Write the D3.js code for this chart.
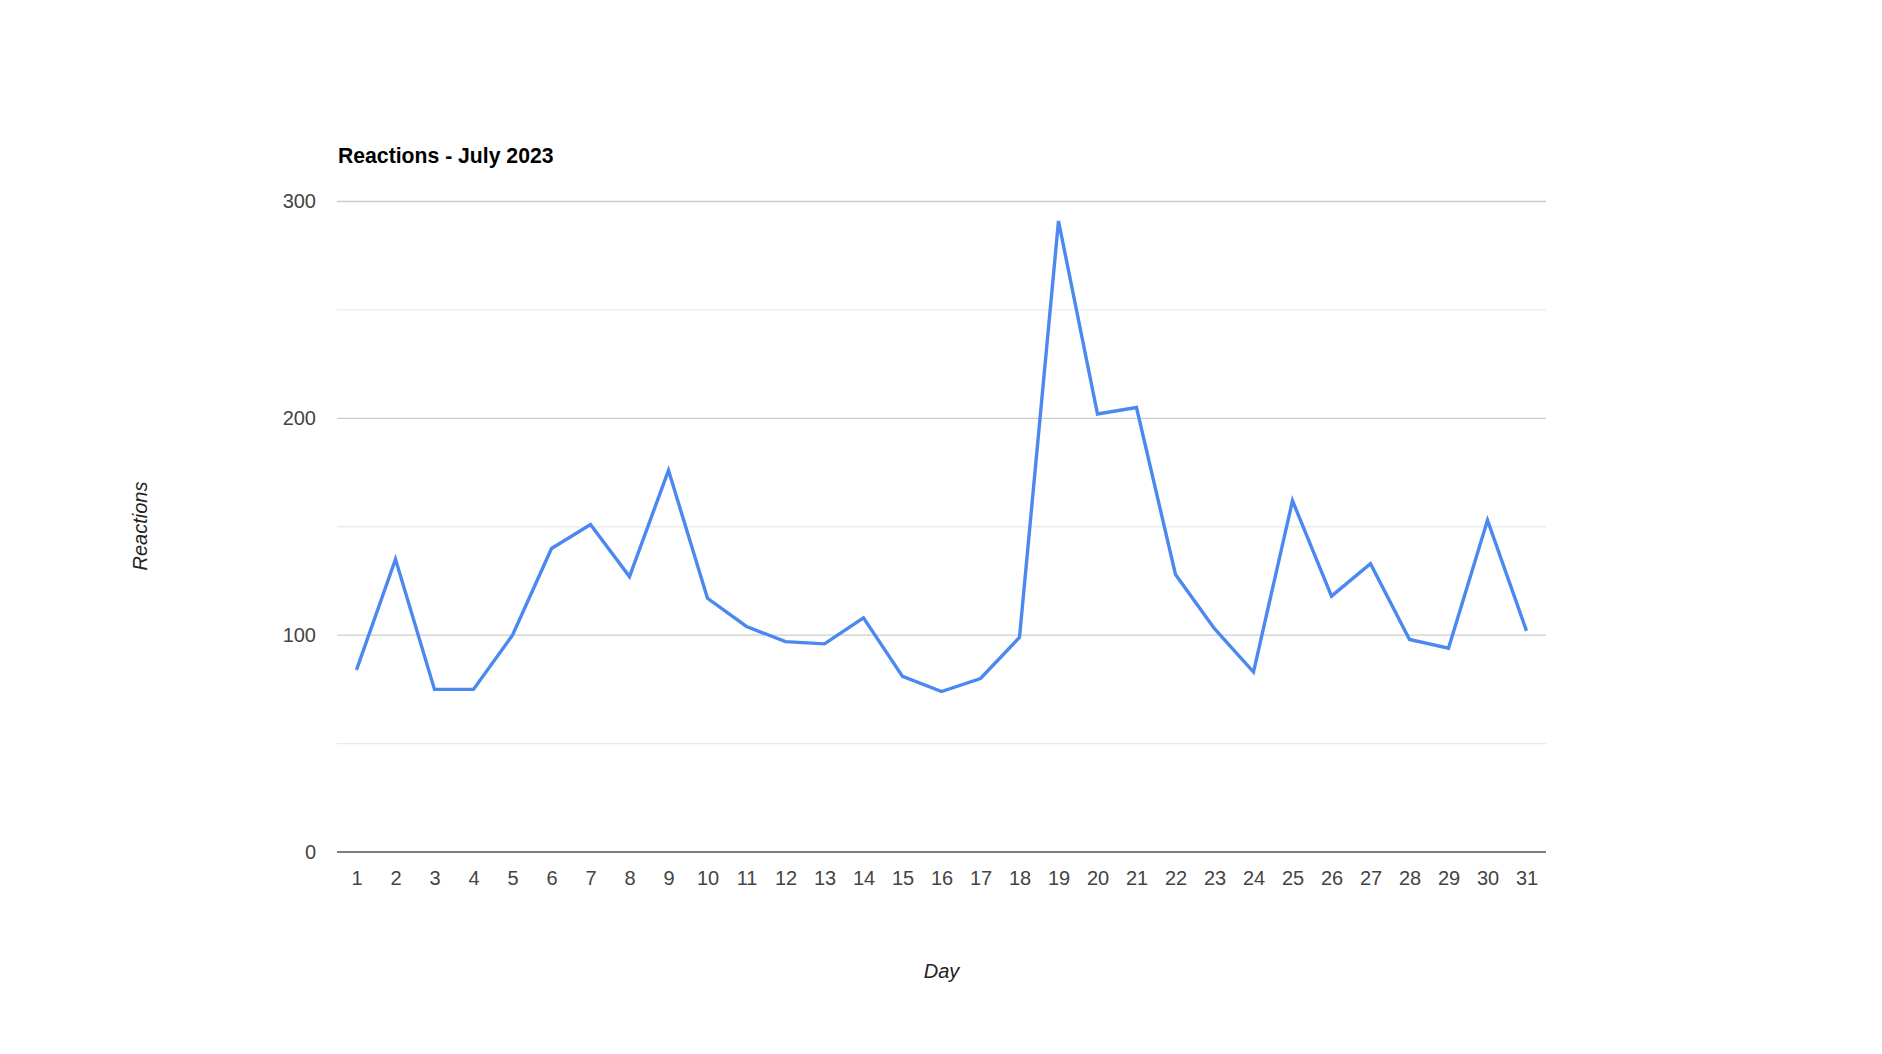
<!DOCTYPE html>
<html lang="en">
<head>
    <meta charset="UTF-8">
    <title>Reactions - July 2023</title>
    <script src="https://cdnjs.cloudflare.com/ajax/libs/d3/7.8.5/d3.min.js"></script>
    <style>
        html, body {
            margin: 0;
            padding: 0;
            background: #ffffff;
        }
        svg {
            display: block;
            font-family: Arial, "Liberation Sans", sans-serif;
        }
        .grid-major { stroke: #cccccc; }
        .grid-minor { stroke: #ebebeb; }
        .tick text { fill: #444444; font-size: 20px; }
        .axis-title { fill: #222222; font-size: 20px; font-style: italic; }
    </style>
</head>
<body>
<div id="chart"></div>
<script>
    // data
    const days = [1, 2, 3, 4, 5, 6, 7, 8, 9, 10, 11, 12, 13, 14, 15, 16,
                  17, 18, 19, 20, 21, 22, 23, 24, 25, 26, 27, 28, 29, 30, 31];
    const reactions = [84, 135, 75, 75, 100, 140, 151, 127, 176, 117, 104, 97, 96, 108, 81, 74,
                       80, 99, 291, 202, 205, 128, 103, 83, 162, 118, 133, 98, 94, 153, 102];
    const yTicks = [0, 100, 200, 300];
    const gridValues = [0, 50, 100, 150, 200, 250, 300];

    const width = 1882, height = 1054;
    const plot = {left: 337, right: 1546, top: 201.5, bottom: 852};

    const svg = d3.select("#chart")
        .append("svg")
        .attr("width", width)
        .attr("height", height);

    const x = d3.scalePoint()
        .domain(days)
        .range([plot.left, plot.right])
        .padding(0.5);

    const y = d3.scaleLinear()
        .domain([0, 300])
        .range([plot.bottom, plot.top]);

    // gridlines (minor every 50, major every 100)
    svg.append("g")
        .selectAll("line")
        .data(gridValues.filter(v => v !== 0))
        .enter()
        .append("line")
        .attr("class", d => d % 100 === 0 ? "grid-major" : "grid-minor")
        .attr("x1", plot.left)
        .attr("x2", plot.right)
        .attr("y1", d => y(d))
        .attr("y2", d => y(d))
        .attr("stroke-width", 1.3);

    // y axis labels
    const yAxis = svg.append("g")
        .attr("transform", `translate(${plot.left},0)`)
        .call(d3.axisLeft(y).tickValues(yTicks).tickSize(0).tickPadding(21));
    yAxis.select(".domain").remove();

    // x axis labels
    const xAxis = svg.append("g")
        .attr("transform", `translate(0,${plot.bottom})`)
        .call(d3.axisBottom(x).tickSize(0).tickPadding(19));
    xAxis.select(".domain").remove();
    svg.selectAll(".tick text").attr("font-family", null).attr("font-size", null);

    // baseline at zero
    svg.append("line")
        .attr("x1", plot.left)
        .attr("x2", plot.right)
        .attr("y1", y(0))
        .attr("y2", y(0))
        .attr("stroke", "#555555")
        .attr("stroke-width", 1.6);

    // the series
    const line = d3.line()
        .x((d, i) => x(days[i]))
        .y(d => y(d));

    svg.append("path")
        .datum(reactions)
        .attr("d", line)
        .attr("fill", "none")
        .attr("stroke", "#4b88f0")
        .attr("stroke-width", 3.4)
        .attr("stroke-linejoin", "miter");

    // title + axis titles
    svg.append("text")
        .attr("x", plot.left + 1)
        .attr("y", 163)
        .attr("font-size", 21.2)
        .attr("font-weight", "bold")
        .attr("fill", "#000000")
        .text("Reactions - July 2023");

    svg.append("text")
        .attr("class", "axis-title")
        .attr("x", (plot.left + plot.right) / 2)
        .attr("y", 978)
        .attr("text-anchor", "middle")
        .text("Day");

    svg.append("text")
        .attr("class", "axis-title")
        .attr("transform", "translate(147,526) rotate(-90)")
        .attr("text-anchor", "middle")
        .text("Reactions");
</script>
</body>
</html>
